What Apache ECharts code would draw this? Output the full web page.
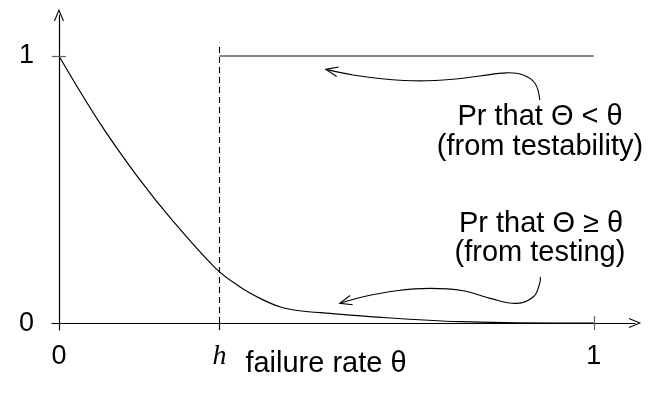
<!DOCTYPE html>
<html>
<head>
<meta charset="utf-8">
<script src="https://cdn.jsdelivr.net/npm/echarts@6/dist/echarts.min.js"></script>
<style>
  html, body { margin: 0; padding: 0; background: #fff; }
  #chart { width: 654px; height: 402px; }
</style>
</head>
<body>
<div id="chart"></div>
<script>
// failure rate theta on x, probability on y
const h = 0.3
const xTicks = [0, h, 1]
const yTicks = [0, 1]

// Pr that Theta >= theta (from testing)
const theta = [0, 0.0735, 0.144, 0.2136, 0.293, 0.338, 0.376, 0.413, 0.45, 0.507, 0.581, 0.75, 0.936, 1]
const prTesting = [1, 0.758, 0.556, 0.381, 0.205, 0.136, 0.0925, 0.061, 0.046, 0.036, 0.024, 0.005, 0.0, 0]

// Pr that Theta < theta (from testability): step at h
const thetaStep = [h, 1]
const prTestability = [1, 1]

// annotation arrows (start -> tip), in data units
const arrowTopX = [0.899, 0.890, 0.868, 0.837, 0.787, 0.737, 0.675, 0.613, 0.550, 0.499]
const arrowTopY = [0.835, 0.898, 0.929, 0.937, 0.925, 0.913, 0.907, 0.913, 0.929, 0.950]
const arrowBotX = [0.900, 0.899, 0.887, 0.856, 0.806, 0.756, 0.693, 0.631, 0.569, 0.525]
const arrowBotY = [0.173, 0.149, 0.0985, 0.0738, 0.0925, 0.121, 0.130, 0.121, 0.0985, 0.0738]

const font = 'Liberation Sans, Arial, Helvetica, sans-serif'
const chevron = 'path://M0,12 L5,0 L10,12 L9,12.4 L5,2.6 L1,12.4 Z'
const xMin = -0.013
const yMin = -0.026

let mycharts = echarts.init(document.getElementById('chart'))

const zip = (xs, ys) => xs.map((x, i) => [x, ys[i]])

// draws a smooth path with an open arrow head at the last point
function arrowItem(xs, ys) {
  return function (params, api) {
    if (params.dataIndex !== 0) return null
    const pts = xs.map((x, i) => api.coord([x, ys[i]]))
    const n = pts.length
    const a = pts[n - 2], b = pts[n - 1]
    const ang = Math.atan2(b[1] - a[1], b[0] - a[0])
    const len = 13, spread = 0.38
    const head = [
      [b[0] - len * Math.cos(ang - spread), b[1] - len * Math.sin(ang - spread)],
      b,
      [b[0] - len * Math.cos(ang + spread), b[1] - len * Math.sin(ang + spread)]
    ]
    const st = { stroke: '#000', fill: null, lineWidth: 1.1 }
    return {
      type: 'group',
      children: [
        { type: 'polyline', shape: { points: pts, smooth: 0.4 }, style: st },
        { type: 'polyline', shape: { points: head }, style: st }
      ]
    }
  }
}

//刻度：x 在 h 下方，1 处两侧；y 在 1 处两侧
const tickSeg = [
  [{ coord: [h, yMin] }, { coord: [h, 0] }],
  [{ coord: [1, yMin] }, { coord: [1, -yMin], lineStyle: { color: '#606060' } }],
  [{ coord: [xMin, 1] }, { coord: [-xMin, 1], lineStyle: { color: '#606060' } }]
]

const textStyle = (t, size) => ({ text: t, font: size + 'px ' + font, fill: '#000', align: 'center', verticalAlign: 'middle' })

mycharts.setOption({
  animation: false,
  grid: { left: 52, right: 19, top: 15, bottom: 72 },
  xAxis: {
    type: 'value',
    min: xMin,
    max: 1.077,
    splitLine: { show: false },
    axisLine: {
      onZero: true,
      symbol: ['none', chevron],
      symbolSize: [10, 13],
      lineStyle: { color: '#000', width: 1.2 }
    },
    axisTick: { show: false },
    axisLabel: {
      customValues: xTicks,
      margin: 13,
      fontSize: 27,
      fontFamily: font,
      color: '#000',
      formatter: v => (Math.abs(v - h) < 1e-6 ? '{h|h}' : String(v)),
      rich: {
        h: { fontFamily: 'Liberation Serif, Times New Roman, serif', fontStyle: 'italic', fontSize: 28, color: '#000', padding: [0, 0, 4, 0] }
      }
    }
  },
  yAxis: {
    type: 'value',
    min: yMin,
    max: 1.1536,
    splitLine: { show: false },
    axisLine: {
      onZero: true,
      symbol: ['none', chevron],
      symbolSize: [10, 13],
      lineStyle: { color: '#000', width: 1.2 }
    },
    axisTick: { show: false },
    axisLabel: {
      customValues: yTicks,
      margin: 18,
      fontSize: 27,
      fontFamily: font,
      color: '#000'
    }
  },
  graphic: [
    { type: 'text', x: 540, y: 116.5, style: textStyle('Pr that Θ < θ', 29) },
    { type: 'text', x: 540, y: 147, style: textStyle('(from testability)', 29) },
    { type: 'text', x: 541, y: 224, style: textStyle('Pr that Θ ≥ θ', 29) },
    { type: 'text', x: 540, y: 253, style: textStyle('(from testing)', 29) },
    { type: 'text', x: 326, y: 363.5, style: textStyle('failure rate θ', 29) }
  ],
  series: [
    {
      //from testing
      type: 'line',
      data: zip(theta, prTesting),
      smooth: 0.35,
      showSymbol: false,
      lineStyle: { color: '#000', width: 1.2 },
      markLine: {
        silent: true,
        symbol: 'none',
        label: { show: false },
        lineStyle: { color: '#000', width: 1.1, type: [6, 4] },
        data: [[{ coord: [h, 0] }, { coord: [h, 1.05] }]]
      }
    },
    {
      //from testability
      type: 'line',
      data: zip(thetaStep, prTestability),
      showSymbol: false,
      lineStyle: { color: '#606060', width: 1.6 },
      markLine: {
        silent: true,
        symbol: 'none',
        label: { show: false },
        lineStyle: { color: '#000', width: 1.2, type: 'solid' },
        data: tickSeg
      }
    },
    {
      type: 'custom',
      renderItem: arrowItem(arrowTopX, arrowTopY),
      data: zip(arrowTopX, arrowTopY),
      encode: { x: 0, y: 1 },
      clip: false,
      silent: true
    },
    {
      type: 'custom',
      renderItem: arrowItem(arrowBotX, arrowBotY),
      data: zip(arrowBotX, arrowBotY),
      encode: { x: 0, y: 1 },
      clip: false,
      silent: true
    }
  ]
})
</script>
</body>
</html>
